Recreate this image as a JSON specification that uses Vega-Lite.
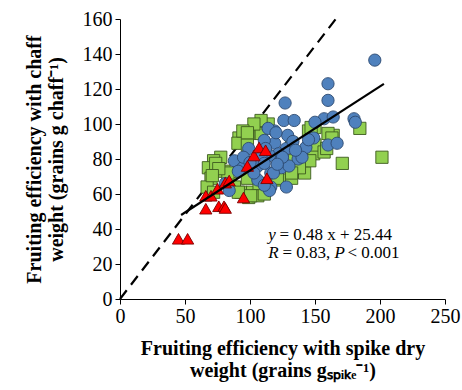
{
  "$schema": "https://vega.github.io/schema/vega-lite/v6.json",
  "autosize": "none",
  "width": 325,
  "height": 280,
  "padding": {"left": 120, "top": 19, "right": 17, "bottom": 91},
  "background": "white",
  "config": {
    "view": {"stroke": null},
    "axis": {
      "grid": false,
      "domainColor": "#000",
      "domainWidth": 1,
      "tickColor": "#000",
      "tickSize": 5,
      "labelFont": "Liberation Serif",
      "labelFontSize": 20,
      "labelColor": "#000",
      "labelOverlap": false,
      "labelFlush": false,
      "labelBound": false,
      "titleFont": "Liberation Serif",
      "titleFontSize": 20,
      "titleFontWeight": "bold",
      "titleColor": "#000"
    }
  },
  "datasets": {
    "pts": [
      {"x": 201.5, "y": 81, "g": "A"}, {"x": 171, "y": 77.5, "g": "A"}, {"x": 184.5, "y": 97.5, "g": "A"}, {"x": 164, "y": 93.5, "g": "A"},
      {"x": 150, "y": 98, "g": "A"}, {"x": 149, "y": 83, "g": "A"}, {"x": 139.5, "y": 74.5, "g": "A"}, {"x": 142, "y": 72, "g": "A"},
      {"x": 132, "y": 89, "g": "A"}, {"x": 107, "y": 99, "g": "A"}, {"x": 108.5, "y": 94.6, "g": "A"}, {"x": 99, "y": 94.6, "g": "A"},
      {"x": 91.5, "y": 92, "g": "A"}, {"x": 90.7, "y": 89, "g": "A"}, {"x": 98, "y": 88, "g": "A"}, {"x": 77.5, "y": 81, "g": "A"},
      {"x": 72, "y": 79, "g": "A"}, {"x": 68, "y": 75, "g": "A"}, {"x": 73.6, "y": 77.5, "g": "A"}, {"x": 80, "y": 73, "g": "A"},
      {"x": 70, "y": 69, "g": "A"}, {"x": 67, "y": 64, "g": "A"}, {"x": 72, "y": 61, "g": "A"}, {"x": 85, "y": 66, "g": "A"},
      {"x": 93, "y": 61, "g": "A"}, {"x": 102, "y": 61, "g": "A"}, {"x": 99, "y": 58, "g": "A"}, {"x": 106, "y": 59, "g": "A"},
      {"x": 111, "y": 60, "g": "A"}, {"x": 124, "y": 68, "g": "A"}, {"x": 132, "y": 69, "g": "A"}, {"x": 134, "y": 79, "g": "A"},
      {"x": 146, "y": 79, "g": "A"}, {"x": 98, "y": 69, "g": "A"}, {"x": 83, "y": 72, "g": "A"}, {"x": 76, "y": 74.5, "g": "A"},
      {"x": 114, "y": 100, "g": "A"}, {"x": 108.5, "y": 102, "g": "A"}, {"x": 103, "y": 100, "g": "A"}, {"x": 94.5, "y": 96, "g": "A"},
      {"x": 145, "y": 96, "g": "A"}, {"x": 160, "y": 94.6, "g": "A"}, {"x": 150, "y": 88, "g": "A"}, {"x": 157, "y": 84, "g": "A"},
      {"x": 138, "y": 75, "g": "A"}, {"x": 132, "y": 72, "g": "A"}, {"x": 107, "y": 66, "g": "A"}, {"x": 88, "y": 64, "g": "A"},
      {"x": 159, "y": 86, "g": "A"}, {"x": 147, "y": 98, "g": "A"}, {"x": 163, "y": 92, "g": "A"}, {"x": 71, "y": 70.5, "g": "A"},
      {"x": 91, "y": 61, "g": "A"}, {"x": 100.5, "y": 59, "g": "A"}, {"x": 98, "y": 95, "g": "A"}, {"x": 121, "y": 69, "g": "A"},
      {"x": 196, "y": 136.5, "g": "B"}, {"x": 160, "y": 123, "g": "B"}, {"x": 160, "y": 113.5, "g": "B"}, {"x": 127, "y": 112, "g": "B"},
      {"x": 126, "y": 102, "g": "B"}, {"x": 134, "y": 102, "g": "B"}, {"x": 157, "y": 103, "g": "B"}, {"x": 164, "y": 104, "g": "B"},
      {"x": 180, "y": 103, "g": "B"}, {"x": 181, "y": 101, "g": "B"}, {"x": 150, "y": 101, "g": "B"}, {"x": 149, "y": 92, "g": "B"},
      {"x": 160, "y": 88, "g": "B"}, {"x": 167, "y": 89, "g": "B"}, {"x": 143, "y": 86.6, "g": "B"}, {"x": 137, "y": 80, "g": "B"},
      {"x": 128, "y": 86, "g": "B"}, {"x": 129, "y": 93.5, "g": "B"}, {"x": 119, "y": 96, "g": "B"}, {"x": 114, "y": 97.5, "g": "B"},
      {"x": 119, "y": 89, "g": "B"}, {"x": 111, "y": 90.6, "g": "B"}, {"x": 122, "y": 83, "g": "B"}, {"x": 115, "y": 82, "g": "B"},
      {"x": 108.5, "y": 81, "g": "B"}, {"x": 106, "y": 76, "g": "B"}, {"x": 124, "y": 75, "g": "B"}, {"x": 130, "y": 76, "g": "B"},
      {"x": 116, "y": 72, "g": "B"}, {"x": 106, "y": 68, "g": "B"}, {"x": 116, "y": 64, "g": "B"}, {"x": 128, "y": 64, "g": "B"},
      {"x": 115, "y": 62, "g": "B"}, {"x": 88, "y": 79, "g": "B"}, {"x": 94.5, "y": 75, "g": "B"}, {"x": 99, "y": 86, "g": "B"},
      {"x": 95, "y": 81, "g": "B"}, {"x": 103, "y": 72, "g": "B"}, {"x": 81, "y": 66, "g": "B"}, {"x": 84, "y": 62, "g": "B"},
      {"x": 91, "y": 73, "g": "B"}, {"x": 140, "y": 81, "g": "B"}, {"x": 111, "y": 77.5, "g": "B"}, {"x": 120, "y": 95, "g": "B"},
      {"x": 118, "y": 72, "g": "B"}, {"x": 111, "y": 65, "g": "B"}, {"x": 125, "y": 81, "g": "B"}, {"x": 133, "y": 90, "g": "B"},
      {"x": 145, "y": 91, "g": "B"}, {"x": 121, "y": 77, "g": "B"}, {"x": 100, "y": 78, "g": "B"}, {"x": 112, "y": 86, "g": "B"},
      {"x": 135, "y": 85, "g": "B"},
      {"x": 45, "y": 34.4, "g": "C"}, {"x": 52, "y": 34.4, "g": "C"}, {"x": 66, "y": 51.6, "g": "C"}, {"x": 66, "y": 59, "g": "C"},
      {"x": 70, "y": 59, "g": "C"}, {"x": 75, "y": 63, "g": "C"}, {"x": 76, "y": 53, "g": "C"}, {"x": 80, "y": 53, "g": "C"},
      {"x": 81, "y": 52, "g": "C"}, {"x": 81, "y": 66.5, "g": "C"}, {"x": 84, "y": 67.7, "g": "C"}, {"x": 95, "y": 58, "g": "C"},
      {"x": 98, "y": 76, "g": "C"}, {"x": 103, "y": 82, "g": "C"}, {"x": 107, "y": 86.6, "g": "C"}, {"x": 112, "y": 85, "g": "C"},
      {"x": 113, "y": 69, "g": "C"}
    ],
    "oneToOne": [{"x": 0, "y": 0}, {"x": 166, "y": 160}],
    "fit": [{"x": 47, "y": 48.0}, {"x": 203, "y": 122.9}],
    "notesItalic": [
      {"x": 114, "y": 33.8, "label": "y"},
      {"x": 114, "y": 23.5, "label": "R"},
      {"x": 165, "y": 23.5, "label": "P"}
    ],
    "notesRoman": [
      {"x": 122.6, "y": 33.8, "label": "= 0.48 x + 25.44"},
      {"x": 125, "y": 23.5, "label": "= 0.83,"},
      {"x": 175, "y": 23.5, "label": "< 0.001"}
    ]
  },
  "encoding": {
    "x": {"field": "x", "type": "quantitative", "scale": {"domain": [0, 250], "nice": false},
      "axis": {"values": [0, 50, 100, 150, 200, 250], "title": ["Fruiting efficiency with spike dry", "weight (grains gₛₚᵢₖₑ⁻¹)"], "titlePadding": 12, "labelPadding": 2, "labelOverlap": false, "labelFont": "Liberation Serif"}},
    "y": {"field": "y", "type": "quantitative", "scale": {"domain": [0, 160], "nice": false},
      "axis": {"values": [0, 20, 40, 60, 80, 100, 120, 140, 160], "tickCount": 9, "title": ["Fruiting efficiency with chaff", "weight (grains g chaff⁻¹)"], "titlePadding": 16, "labelPadding": 3, "labelOverlap": false, "labelFont": "Liberation Serif"}}
  },
  "layer": [
    {
      "data": {"name": "oneToOne"},
      "mark": {"type": "line", "color": "#000", "strokeWidth": 2.2, "strokeDash": [11, 7]}
    },
    {
      "data": {"name": "pts"},
      "mark": {"type": "point", "filled": true, "opacity": 1, "strokeWidth": 0.9, "size": 150},
      "encoding": {
        "shape": {"field": "g", "type": "nominal", "scale": {"domain": ["A", "B", "C"], "range": ["square", "circle", "triangle-up"]}, "legend": null},
        "color": {"field": "g", "type": "nominal", "scale": {"domain": ["A", "B", "C"], "range": ["#92D050", "#4F81BD", "#FF0000"]}, "legend": null},
        "stroke": {"field": "g", "type": "nominal", "scale": {"domain": ["A", "B", "C"], "range": ["#3d5a1f", "#2c4a70", "#7a0000"]}, "legend": null}
      }
    },
    {
      "data": {"name": "fit"},
      "mark": {"type": "line", "color": "#000", "strokeWidth": 2.2}
    },
    {
      "data": {"name": "notesItalic"},
      "mark": {"type": "text", "align": "left", "baseline": "alphabetic", "font": "Liberation Serif", "fontStyle": "italic", "fontSize": 17, "color": "#000"},
      "encoding": {
        "text": {"field": "label", "type": "nominal"}
      }
    },
    {
      "data": {"name": "notesRoman"},
      "mark": {"type": "text", "align": "left", "baseline": "alphabetic", "font": "Liberation Serif", "fontSize": 17, "color": "#000"},
      "encoding": {
        "text": {"field": "label", "type": "nominal"}
      }
    }
  ]
}
